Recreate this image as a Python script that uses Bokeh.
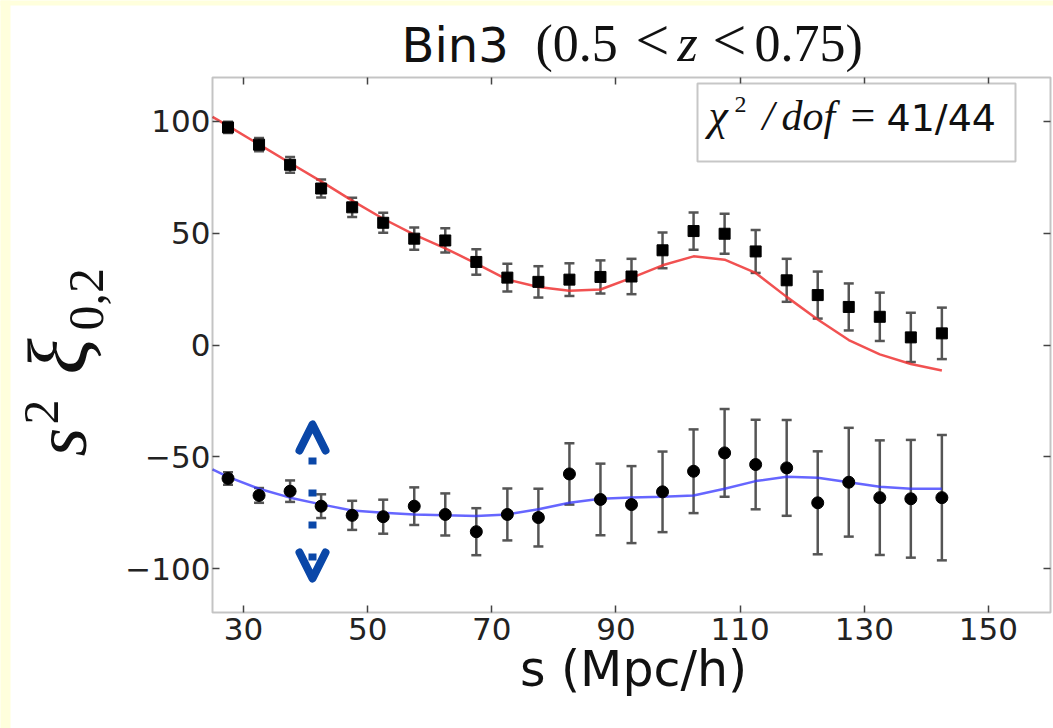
import numpy as np
from bokeh.plotting import figure
from bokeh.models import (Range1d, FixedTicker, LinearAxis, Label, BoxAnnotation,
                          Arrow, OpenHead)
from bokeh.embed import file_html
from bokeh.resources import INLINE

# ---------------- data ----------------
s_data = [27.5, 32.5, 37.5, 42.5, 47.5, 52.5, 57.5, 62.5, 67.5, 72.5, 77.5, 82.5,
          87.5, 92.5, 97.5, 102.5, 107.5, 112.5, 117.5, 122.5, 127.5, 132.5, 137.5, 142.5]
s_model = [25.0, 27.5, 32.5, 37.5, 42.5, 47.5, 52.5, 57.5, 62.5, 67.5, 72.5, 77.5, 82.5,
           87.5, 92.5, 97.5, 102.5, 107.5, 112.5, 117.5, 122.5, 127.5, 132.5, 137.5, 142.5]

mono = [97.2, 89.5, 80.5, 69.9, 61.5, 54.6, 47.5, 46.7, 37.1, 30.1, 28.2, 29.2,
        30.4, 30.6, 42.3, 50.9, 49.7, 41.8, 28.9, 22.3, 17.0, 12.6, 3.4, 5.2]
mono_err = [2.5, 3.0, 3.5, 4.0, 4.3, 4.5, 5.0, 5.4, 5.7, 6.2, 7.0, 7.3,
            7.4, 7.9, 8.0, 8.3, 8.9, 9.6, 9.6, 10.5, 10.5, 10.8, 11.0, 11.5]
mono_model = [101.9, 97.9, 89.6, 81.3, 73.1, 64.5, 56.4, 49.3, 43.2, 36.4, 29.2, 25.9, 24.2,
              24.8, 30.0, 35.6, 39.6, 38.1, 32.2, 21.5, 11.4, 2.2, -4.2, -8.5, -11.4]

quad = [-59.6, -67.2, -65.3, -72.0, -76.1, -76.7, -72.0, -75.7, -83.4, -75.7, -77.1, -57.6,
        -69.0, -71.3, -65.6, -56.4, -48.2, -53.4, -54.9, -70.5, -61.3, -68.2, -68.7, -68.2]
quad_err = [2.8, 3.3, 4.8, 5.3, 6.5, 7.6, 8.4, 9.4, 10.5, 11.6, 12.9, 13.7,
            16.0, 17.2, 18.0, 18.7, 19.6, 20.0, 21.4, 23.0, 24.3, 25.6, 26.3, 28.0]
quad_model = [-55.6, -58.9, -64.2, -68.2, -71.2, -73.9, -74.9, -75.7, -76.1, -76.4, -75.7, -73.4,
              -70.5, -68.7, -68.1, -67.8, -67.2, -64.2, -60.8, -58.9, -59.3, -61.3, -63.3, -64.2, -64.2]

x_ticks = [30, 50, 70, 90, 110, 130, 150]
y_ticks = [-100, -50, 0, 50, 100]
y_tick_labels = {-100: "\u2212100", -50: "\u221250", 0: "0", 50: "50", 100: "100"}

title_sans = "Bin3"
title_math = ["(0.5", "<", "z", "<", "0.75)"]
fit_text = "41/44"
x_label = "s (Mpc/h)"

# ---------------- layout ----------------
W, H = 1053, 728
X0, X1 = 25, 160            # axes limits
Y0, Y1 = -119.5, 119.5
FL, FR, FT, FB = 212, 1050, 77, 612   # axes box edges in page pixels
KX = (X1 - X0) / (FR - FL)
KY = (Y1 - Y0) / (FB - FT)

def sx(px):
    return X0 + (px - FL) * KX

def sy(py):
    return Y1 - (py - FT) * KY

# the plotting frame spans the whole canvas; the axes box sits inside it
p = figure(width=W, height=H, x_range=Range1d(sx(0), sx(W)), y_range=Range1d(sy(H), sy(0)),
           x_axis_location=None, y_axis_location=None, min_border=0,
           output_backend="svg", toolbar_location=None)
p.grid.visible = False
p.outline_line_color = None
p.background_fill_color = "white"
p.border_fill_color = "white"
YELLOW = "#ffffdc"
p.add_layout(BoxAnnotation(left=sx(-5), right=sx(10), top=sy(-5), bottom=sy(H + 5),
                           fill_color=YELLOW, fill_alpha=1, line_color=None,
                           level="underlay"))
p.add_layout(BoxAnnotation(left=sx(-5), right=sx(W + 5), top=sy(-5), bottom=sy(5),
                           fill_color=YELLOW, fill_alpha=1, line_color=None,
                           level="underlay"))

TICK_FONT = "DejaVu Sans"
def make_axis(loc, fixed, ticks, labels):
    ax = LinearAxis(ticker=FixedTicker(ticks=ticks), fixed_location=fixed,
                    axis_line_color=None, major_tick_in=7, major_tick_out=0,
                    major_tick_line_color="#444", major_tick_line_width=1.5,
                    minor_tick_line_color=None)
    if labels is None:
        ax.major_label_text_font_size = "1px"
        ax.major_label_overrides = {t: "" for t in ticks}
    else:
        ax.major_label_text_font = TICK_FONT
        ax.major_label_text_font_size = "31px"
        ax.major_label_text_color = "#222"
        if labels:
            ax.major_label_overrides = labels
    p.add_layout(ax, loc)
    return ax

xax = make_axis("below", Y0, x_ticks, {})
yax = make_axis("left", X0, y_ticks, y_tick_labels)
make_axis("above", Y1, x_ticks, None)
make_axis("right", X1, y_ticks, None)
xax.major_label_standoff = 5
yax.major_label_standoff = 2

# ---------------- error bars ----------------
EB = "#555555"
mono_lo = [v - e for v, e in zip(mono, mono_err)]
mono_hi = [v + e for v, e in zip(mono, mono_err)]
quad_lo = [v - e for v, e in zip(quad, quad_err)]
quad_hi = [v + e for v, e in zip(quad, quad_err)]
for lo, hi in ((mono_lo, mono_hi), (quad_lo, quad_hi)):
    p.segment(x0=s_data, y0=lo, x1=s_data, y1=hi, line_color=EB, line_width=2.5)
    p.scatter(x=s_data + s_data, y=lo + hi, marker="dash", size=10,
              line_color=EB, line_width=2.5)

# ---------------- models ----------------
p.line(s_model, mono_model, line_color="#ee3333", line_alpha=0.85, line_width=2.5)
p.line(s_model, quad_model, line_color="#3333ff", line_alpha=0.75, line_width=2.5)

# ---------------- measurements ----------------
p.scatter(s_data, mono, marker="square", size=11, fill_color="black", line_color="black")
p.scatter(s_data, quad, marker="circle", size=12, fill_color="black", line_color="black")

# axes box outline
p.add_layout(BoxAnnotation(left=X0, right=X1, bottom=Y0, top=Y1, fill_color=None,
                           line_color="#3a3a3a", line_width=2))

# ---------------- blue dotted double arrow annotation ----------------
BLUE = "#0a47a8"
p.segment(x0=[sx(312)], y0=[sy(457)], x1=[sx(312)], y1=[sy(561)], line_color=BLUE,
          line_width=8, line_dash="7 25", line_cap="butt")
head = dict(size=26, line_width=8, line_color=BLUE, line_cap="round", line_join="round")
p.add_layout(Arrow(x_start=sx(312), y_start=sy(424), x_end=sx(312), y_end=sy(578),
                   start=OpenHead(**head), end=OpenHead(**head), line_alpha=0))

# ---------------- texts ----------------
SERIF = "Liberation Serif"
BASE_FIX = 0.42   # empirical baseline correction (fraction of font size)
def lab(px, py, text, font, size, style="normal", angle=0.0, align="left", color="#111"):
    if angle == 0.0:
        py = py - BASE_FIX * size
    else:
        px = px - BASE_FIX * size
    p.add_layout(Label(x=sx(px), y=sy(py), text=text, text_font=font,
                       text_font_size=f"{size}px", text_font_style=style,
                       text_align=align, text_baseline="alphabetic", angle=angle,
                       text_color=color))

# title
lab(401, 65, title_sans, "DejaVu Sans", 48)
lab(535, 65, title_math[0], SERIF, 52)
lab(635, 65, title_math[1], SERIF, 60)
lab(677, 65, title_math[2], SERIF, 52, style="italic")
lab(712, 65, title_math[3], SERIF, 60)
lab(754, 65, title_math[4], SERIF, 52)

# chi2 box
p.add_layout(BoxAnnotation(left=sx(697), right=sx(1015), top=sy(83), bottom=sy(161),
                           fill_color="white", fill_alpha=1, line_color="#444",
                           line_width=2))
lab(708, 133, "\u03c7", SERIF, 44, style="italic")
lab(734, 114, "2", SERIF, 24)
lab(762, 133, "/", SERIF, 42, style="italic")
lab(781, 133, "dof", SERIF, 42, style="italic")
lab(850, 133, "=", SERIF, 44)
lab(886, 133, fit_text, "DejaVu Sans", 38)

# x label
lab(633, 690, x_label, "DejaVu Sans", 49, align="center")

# y label (rotated)
R = np.pi / 2
lab(92, 456, "s", SERIF, 74, style="italic", angle=R)
lab(62, 424, "2", SERIF, 50, angle=R)
lab(92, 374, "\u03be", SERIF, 84, style="italic", angle=R)
lab(107, 330, "0,2", SERIF, 50, angle=R)

open("out.html", "w").write(file_html(p, INLINE))
